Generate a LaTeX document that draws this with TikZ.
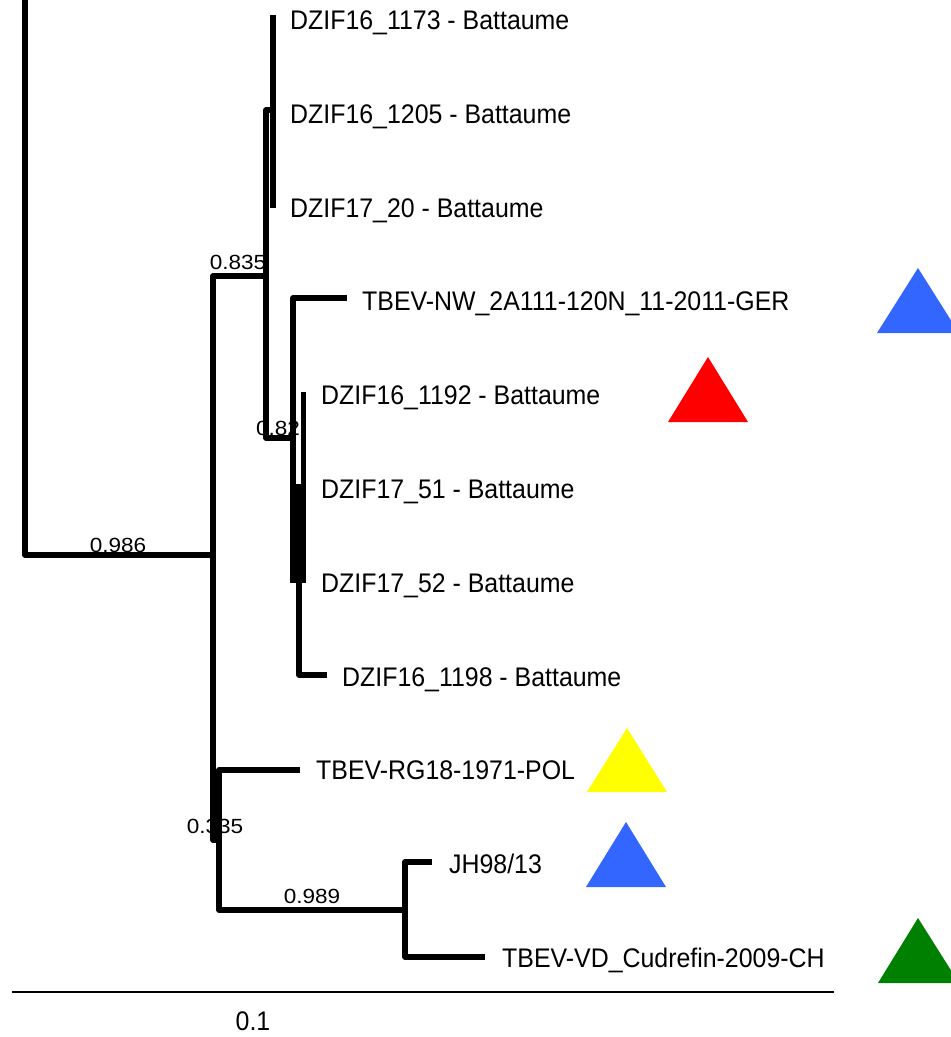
\documentclass[tikz,border=0pt]{standalone}
\usepackage{fontspec}
\setmainfont{Liberation Sans}
\usepackage{graphicx}
\definecolor{tblue}{HTML}{3366FF}
\definecolor{tred}{HTML}{FF0000}
\definecolor{tyellow}{HTML}{FFFF00}
\definecolor{tgreen}{HTML}{008000}
\newcommand{\lbl}[1]{\scalebox{1}[1.08]{#1}}
\newcommand{\bsl}[1]{\scalebox{1.1}[1]{#1}}
\begin{document}
\begin{tikzpicture}[x=1pt,y=-1pt,
  br/.style={line width=5.5pt, line join=round},
  leaf/.style={anchor=base west, inner sep=0pt, font=\fontsize{24.9}{28}\selectfont},
  boot/.style={anchor=base, inner sep=0pt, font=\fontsize{20.5}{24}\selectfont},
  tri/.style={draw=none}]
\useasboundingbox (0,0) rectangle (951,1037);
\clip (0,0) rectangle (951,1037);

% bootstrap labels (drawn below the branches)
\node[boot] (b986) at (118,552) {\bsl{0.986}};
\node[boot] (b835) at (238,269) {\bsl{0.835}};
\node[boot] (b82)  at (278,435) {\bsl{0.82}};
\node[boot] (b335) at (215,833) {\bsl{0.335}};
\node[boot] (b989) at (312,903) {\bsl{0.989}};

% internal nodes
\coordinate (rtop) at (25,-5);
\coordinate (A) at (213,555);
\coordinate (c835) at (266,276);
\coordinate (p1) at (273,110);
\coordinate (n82) at (293,438);
\coordinate (q) at (293,583);
\coordinate (q2) at (299,583);
\coordinate (B) at (219,840);
\coordinate (c989) at (405,910);

% tips
\coordinate (t1173) at (273,15);
\coordinate (t1720) at (273,208);
\coordinate (tNW) at (347,298);
\coordinate (t1192) at (303.5,392);
\coordinate (t1752) at (303.5,583);
\coordinate (t1198) at (327,675);
\coordinate (tRG) at (300,770);
\coordinate (tJH) at (432,862);
\coordinate (tVD) at (485,957);

% branches
\draw[br] (rtop) |- (A);
\draw[br] (c835) -| (A);
\draw[br] (B) -| (A);
\draw[br] (p1) -| (c835);
\draw[br] (n82) -| (c835);
\draw[br] (t1173) -- (t1720);
\draw[br] (tNW) -| (n82) -- (q);
\draw[line width=4.5pt] (t1192) -- (t1752);
\fill (291,484) rectangle (306,583);
\draw[br] (t1198) -| (q2);
\draw[br] (tRG) -| (B);
\draw[br] (c989) -| (B);
\draw[br] (tJH) -| (c989);
\draw[br] (tVD) -| (c989);

% leaf labels
\node[leaf] (l1173) at (290,29) {\lbl{DZIF16\_1173 - Battaume}};
\node[leaf] (l1205) at (290,123) {\lbl{DZIF16\_1205 - Battaume}};
\node[leaf] (l1720) at (290,217) {\lbl{DZIF17\_20 - Battaume}};
\node[leaf] (lNW) at (362,310) {\lbl{TBEV-NW\_2A111-120N\_11-2011-GER}};
\node[leaf] (l1192) at (321,404) {\lbl{DZIF16\_1192 - Battaume}};
\node[leaf] (l1751) at (321,498) {\lbl{DZIF17\_51 - Battaume}};
\node[leaf] (l1752) at (321,592) {\lbl{DZIF17\_52 - Battaume}};
\node[leaf] (l1198) at (342,686) {\lbl{DZIF16\_1198 - Battaume}};
\node[leaf] (lRG) at (316,779) {\lbl{TBEV-RG18-1971-POL}};
\node[leaf] (lJH) at (449,873) {\lbl{JH98/13}};
\node[leaf] (lVD) at (502,967) {\lbl{TBEV-VD\_Cudrefin-2009-CH}};

% triangles
\fill[tblue] (877,333) -- (918,268) -- (959,333) -- cycle;
\fill[tred] (668,422) -- (708,357) -- (748,422) -- cycle;
\fill[tyellow] (587,792) -- (627,728) -- (667,792) -- cycle;
\fill[tblue] (586,887) -- (626,822) -- (666,887) -- cycle;
\fill[tgreen] (878,983) -- (918,918) -- (959,983) -- cycle;

% scale bar
\coordinate (s0) at (12,992);
\coordinate (s1) at (834,992);
\draw[line width=2.5pt] (s0) -- (s1);
\node[leaf, anchor=base] (scl) at (253,1030) {\lbl{0.1}};
\end{tikzpicture}
\end{document}
